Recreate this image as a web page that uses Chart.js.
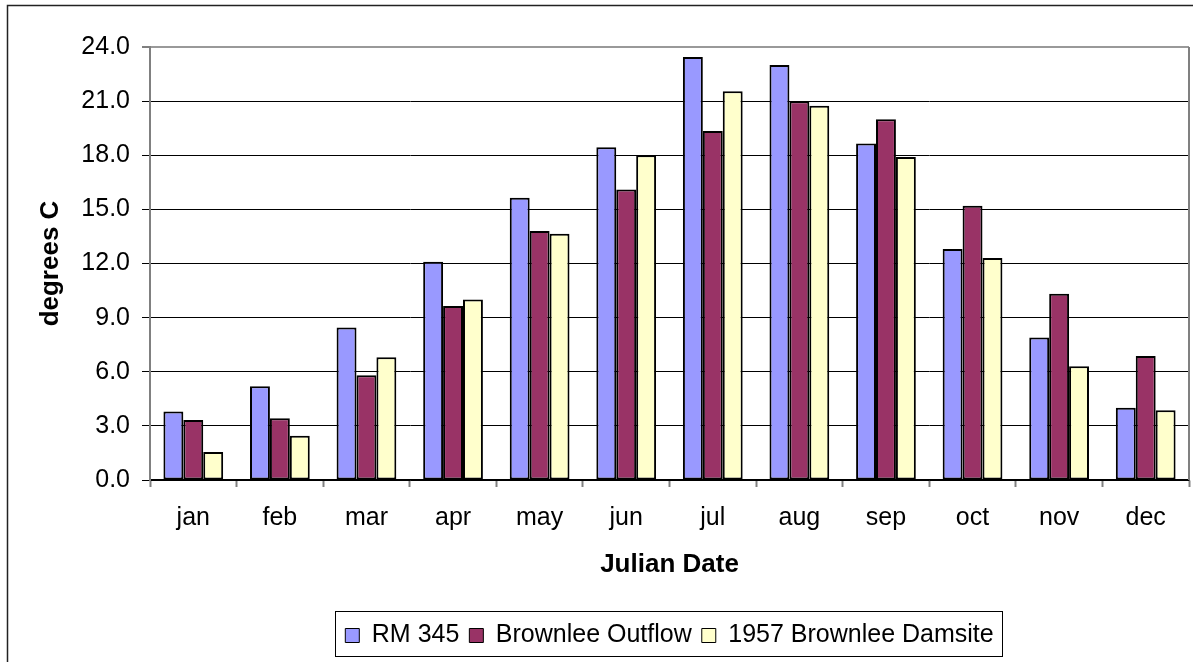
<!DOCTYPE html>
<html>
<head>
<meta charset="utf-8">
<script src="https://cdn.jsdelivr.net/npm/chart.js@4.4.0/dist/chart.umd.min.js"></script>
<style>
  html, body { margin: 0; padding: 0; background: #fff; }
  #wrap { width: 1198px; height: 662px; }
</style>
</head>
<body>
<div id="wrap"><canvas id="tempChart" width="1198" height="662"></canvas></div>
<script>
const months = ['jan', 'feb', 'mar', 'apr', 'may', 'jun', 'jul', 'aug', 'sep', 'oct', 'nov', 'dec'];
const rm345 = [3.8, 5.2, 8.45, 12.1, 15.65, 18.45, 23.45, 23.0, 18.65, 12.8, 7.9, 4.0];
const brownleeOutflow = [3.33, 3.42, 5.8, 9.65, 13.8, 16.1, 19.35, 21.0, 20.0, 15.2, 10.33, 6.87];
const damsite1957 = [1.55, 2.45, 6.8, 10.0, 13.65, 18.0, 21.55, 20.75, 17.9, 12.3, 6.3, 3.87];
const yTicks = [0, 3, 6, 9, 12, 15, 18, 21, 24];

const FONT = "'Liberation Sans', Arial, sans-serif";

// white page + the outer chart frame (only left and top edges are in view)
const pageFrame = {
    id: 'pageFrame',
    beforeDraw(chart) {
        const c = chart.ctx;
        c.save();
        c.fillStyle = '#fff';
        c.fillRect(0, 0, chart.width, chart.height);
        c.strokeStyle = '#222';
        c.lineWidth = 1.5;
        c.beginPath();
        c.moveTo(7.5, chart.height);
        c.lineTo(7.5, 5.5);
        c.lineTo(1193, 5.5);
        c.stroke();
        c.restore();
    },
    afterDraw(chart) {
        const a = chart.chartArea;
        const c = chart.ctx;
        c.save();
        // grey right edge of plot area
        c.strokeStyle = '#808080';
        c.lineWidth = 2;
        c.beginPath();
        c.moveTo(a.right, a.top);
        c.lineTo(a.right, a.bottom);
        c.stroke();
        // frame round the legend
        const boxes = chart.legend.legendHitBoxes;
        if (boxes && boxes.length) {
            const left = Math.min(...boxes.map(b => b.left));
            const right = Math.max(...boxes.map(b => b.left + b.width));
            c.strokeStyle = '#000';
            c.lineWidth = 1;
            c.strokeRect(Math.round(left) - 9.5, 611.5, Math.round(right - left) + 19, 45);
        }
        c.restore();
    }
};

new Chart(document.getElementById('tempChart').getContext('2d'), {
    type: 'bar',
    data: {
        labels: months,
        datasets: [
            {
                label: 'RM 345',
                data: rm345,
                backgroundColor: '#9999FF'
            },
            {
                label: 'Brownlee Outflow',
                data: brownleeOutflow,
                backgroundColor: '#993366'
            },
            {
                label: '1957 Brownlee Damsite',
                data: damsite1957,
                backgroundColor: '#FFFFCC'
            }
        ]
    },
    options: {
        responsive: false,
        animation: false,
        devicePixelRatio: 1,
        layout: { padding: { top: 47, right: 9, bottom: 4, left: 35 } },
        datasets: {
            bar: {
                borderColor: '#000',
                borderWidth: 2,
                borderSkipped: false,
                barPercentage: 1,
                categoryPercentage: 0.69
            }
        },
        scales: {
            x: {
                grid: {
                    drawOnChartArea: false,
                    tickLength: 7,
                    tickColor: '#808080',
                    tickWidth: 2
                },
                border: { color: '#000', width: 1.5 },
                ticks: {
                    color: '#000',
                    padding: 16,
                    font: { family: FONT, size: 25 }
                },
                title: {
                    display: true,
                    text: 'Julian Date',
                    color: '#000',
                    padding: { top: 0, bottom: 33 },
                    font: { family: FONT, size: 26, weight: 'bold' }
                },
                afterFit(scale) { scale.height = 133; }
            },
            y: {
                min: 0,
                max: 24,
                afterBuildTicks(scale) { scale.ticks = yTicks.map(v => ({ value: v })); },
                grid: {
                    color: ctx => (ctx.tick && ctx.tick.value === 24 ? '#999' : '#000'),
                    lineWidth: ctx => (ctx.tick && ctx.tick.value === 24 ? 2 : 1),
                    tickColor: '#000',
                    tickLength: 8,
                    tickWidth: 1
                },
                border: { color: '#808080', width: 2 },
                ticks: {
                    color: '#000',
                    padding: 12,
                    font: { family: FONT, size: 25 },
                    callback: v => Number(v).toFixed(1)
                },
                title: {
                    display: true,
                    text: 'degrees C',
                    color: '#000',
                    padding: { top: 0, bottom: 0 },
                    font: { family: FONT, size: 26, weight: 'bold' }
                },
                afterFit(scale) { scale.width = 115; }
            }
        },
        plugins: {
            tooltip: { enabled: false },
            legend: {
                position: 'bottom',
                fullSize: false,
                labels: {
                    color: '#000',
                    boxWidth: 14,
                    boxHeight: 14,
                    padding: 10,
                    font: { family: FONT, size: 25 },
                    generateLabels(chart) {
                        const items = Chart.defaults.plugins.legend.labels.generateLabels(chart);
                        items.forEach(it => { it.lineWidth = 1; it.strokeStyle = '#000'; });
                        return items;
                    }
                }
            }
        }
    },
    plugins: [pageFrame]
});
</script>
</body>
</html>
